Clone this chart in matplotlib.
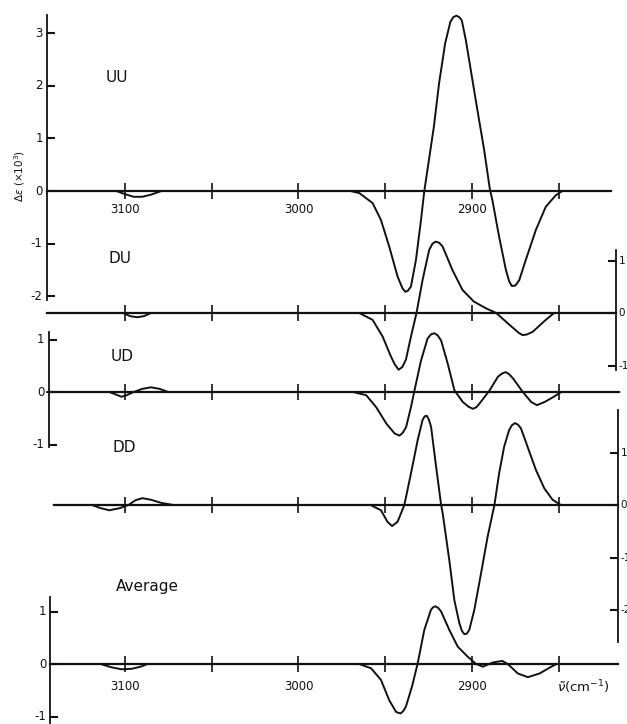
import matplotlib
matplotlib.use("Agg")
import matplotlib.pyplot as plt

# --- data (wavenumber in cm-1, delta-epsilon x 10^3) ---
uu_wn = [3145, 3105, 3100, 3095, 3090, 3085, 3079, 2970, 2964.9, 2957.3, 2952.5, 2947.7,
         2942.9, 2940, 2938.4, 2937, 2935.2, 2932.3, 2929.4, 2927.5, 2922, 2919, 2915.5,
         2912.5, 2910.8, 2909, 2907.3, 2905.9, 2903.6, 2900.7, 2896.9, 2893, 2889.8,
         2888.3, 2884.4, 2880.5, 2878.6, 2877.1, 2875, 2872.8, 2869, 2863.2, 2857.5,
         2851.7, 2848, 2820]
uu_val = [0, 0, -0.06, -0.11, -0.11, -0.07, 0, 0, -0.04, -0.23, -0.55, -1.06,
          -1.63, -1.86, -1.92, -1.90, -1.82, -1.31, -0.55, 0, 1.22, 2.05, 2.81,
          3.22, 3.31, 3.34, 3.31, 3.25, 2.88, 2.30, 1.54, 0.78, 0.05,
          -0.17, -0.87, -1.50, -1.72, -1.81, -1.80, -1.70, -1.31, -0.74, -0.30,
          -0.08, 0, 0]

du_wn = [3145, 3101, 3097, 3093, 3089, 3085, 2965, 2957.3, 2951.5, 2946.7, 2944.5, 2942.3,
         2940.2, 2938.1, 2935.2, 2932, 2928.5, 2924.7, 2922.8, 2920.9, 2919, 2917, 2911.3,
         2905.5, 2899, 2892, 2886, 2878.6, 2873, 2870.9, 2868.5, 2865.1, 2857.5, 2852.7, 2817]
du_val = [0, 0, -0.06, -0.08, -0.06, 0, 0, -0.13, -0.45, -0.83, -0.98, -1.08,
          -1.03, -0.89, -0.45, 0, 0.63, 1.20, 1.32, 1.36, 1.34, 1.27, 0.82,
          0.44, 0.22, 0.09, 0, -0.22, -0.38, -0.42, -0.41, -0.36, -0.13, 0, 0]

ud_wn = [3145, 3109, 3105, 3102, 3099, 3095, 3090, 3085, 3080, 3075, 2968.5, 2961, 2955.2,
         2949.4, 2944.6, 2941.8, 2940, 2938, 2935.2, 2932.7, 2929.4, 2925.6, 2923.6, 2921.7,
         2919.8, 2917.8, 2914, 2910.1, 2905.3, 2902, 2899.5, 2897.5, 2895.7, 2889.9, 2885.1,
         2882.8, 2880.7, 2878.6, 2876.4, 2870.7, 2865.9, 2862.6, 2858.2, 2853.4, 2848.6, 2815]
ud_val = [0, 0, -0.05, -0.09, -0.06, 0, 0.06, 0.09, 0.06, 0, 0, -0.06, -0.29,
          -0.60, -0.79, -0.83, -0.78, -0.67, -0.29, 0.10, 0.60, 1.02, 1.10, 1.12,
          1.08, 0.98, 0.54, 0.03, -0.19, -0.28, -0.32, -0.29, -0.22, 0.03, 0.29,
          0.35, 0.38, 0.34, 0.26, 0, -0.19, -0.25, -0.19, -0.10, 0, 0]

dd_wn = [3141, 3119, 3114, 3109, 3103, 3098, 3094, 3090, 3085, 3079, 3072, 2958.4, 2952.5,
         2948.7, 2946.1, 2942.9, 2939, 2935.2, 2931.3, 2928.5, 2927.3, 2926.1, 2924.9,
         2923.6, 2920.7, 2917.8, 2916.9, 2913.1, 2910.2, 2907.3, 2905.8, 2904.4, 2903,
         2901.6, 2898.7, 2894.8, 2891, 2887.1, 2884.4, 2881.5, 2878.6, 2877, 2875.3,
         2873.5, 2871.8, 2868, 2863.2, 2858.4, 2853.6, 2848.8, 2817]
dd_val = [0, 0, -0.06, -0.10, -0.06, 0, 0.09, 0.13, 0.10, 0.04, 0, 0, -0.10,
          -0.32, -0.40, -0.32, 0, 0.60, 1.24, 1.62, 1.69, 1.70, 1.63,
          1.49, 0.73, 0, -0.16, -1.05, -1.81, -2.25, -2.40, -2.46, -2.45,
          -2.38, -2.00, -1.30, -0.60, 0, 0.60, 1.11, 1.43, 1.52, 1.56,
          1.53, 1.46, 1.11, 0.67, 0.32, 0.10, 0, 0]

avg_wn = [3143, 3114, 3108, 3102, 3096, 3091, 3087, 2965, 2958.2, 2952.5, 2947.7, 2943.8,
          2942.4, 2941, 2939.5, 2938.1, 2934.6, 2931.4, 2927.5, 2923.7, 2922.5, 2921.2,
          2919.5, 2917.8, 2913.1, 2908.2, 2902.5, 2897.6, 2893.8, 2888, 2882.6, 2879.4,
          2873.6, 2867.8, 2861.1, 2854.3, 2851.4, 2817]
avg_val = [0, 0, -0.06, -0.10, -0.09, -0.05, 0, 0, -0.08, -0.30, -0.69, -0.91,
           -0.93, -0.94, -0.89, -0.81, -0.43, 0, 0.65, 1.03, 1.08, 1.10,
           1.07, 1.00, 0.65, 0.33, 0.14, 0, -0.05, 0.03, 0.06, 0,
           -0.18, -0.25, -0.18, -0.05, 0, 0]

x_ticks = [3100, 3050, 3000, 2950, 2900, 2850]
x_ticklabels = {3100: "3100", 3000: "3000", 2900: "2900"}

# name, wn, values, baseline offset, zero line start/end, label pos (wn, height above
# zero line), side of the scale bar, scale bar x, scale bar extent, scale ticks
panels = [
    ("UU", uu_wn, uu_val, 0.0, 3145, 2820, (3104.5, 2.17), "left", 3145, (3.35, -2.08), [3, 2, 1, 0, -1, -2]),
    ("DU", du_wn, du_val, -2.324, 3145, 2817, (3103, 1.04), "right", 2817, (1.20, -1.09), [1, 0, -1]),
    ("UD", ud_wn, ud_val, -3.829, 3144, 2816, (3101.7, 0.67), "left", 3144, (1.14, -1.05), [1, 0, -1]),
    ("DD", dd_wn, dd_val, -5.981, 3141, 2816, (3100.3, 1.10), "right", 2816, (1.81, -2.61), [1, 0, -1, -2]),
    ("Average", avg_wn, avg_val, -9.010, 3143, 2816, (3087, 1.47), "left", 3143, (1.28, -1.30), [1, 0, -1]),
]

INK = "#111111"
fig = plt.figure(figsize=(6.27, 7.24), dpi=100)
ax = fig.add_axes([0, 0, 1, 1])
ax.set_xlim(3172, 2810.7)
ax.set_ylim(-10.152, 3.638)
ax.axis("off")

for name, wn, val, off, b0, b1, lab, side, ax_x, ext, yt in panels:
    # zero line with cross ticks
    ax.plot([b0, b1], [off, off], color=INK, lw=1.6)
    ax.plot(x_ticks, [off] * len(x_ticks), ls="none", marker="|", ms=11, mew=1.2, color=INK)
    # spectrum
    ax.plot(wn, [v + off for v in val], color=INK, lw=1.4,
            solid_joinstyle="round", solid_capstyle="round")
    ax.text(lab[0], lab[1] + off, name, ha="center", va="center", fontsize=11, color=INK)
    # vertical scale bar
    ax.plot([ax_x, ax_x], [ext[0] + off, ext[1] + off], color=INK, lw=1.3)
    if side == "left":
        ax.plot([ax_x] * len(yt), [t + off for t in yt], ls="none", marker=1, ms=6, mew=1.5, color=INK)
        for t in yt:
            ax.annotate(str(t), (ax_x, t + off), xytext=(-3, 0), textcoords="offset points",
                        ha="right", va="center", fontsize=8.5, color=INK)
    else:
        ax.plot([ax_x] * len(yt), [t + off for t in yt], ls="none", marker=0, ms=6, mew=1.5, color=INK)
        for t in yt:
            # the reference crops these at the page edge
            ax.annotate(str(t), (ax_x, t + off), xytext=(2, 0), textcoords="offset points",
                        ha="left", va="center", fontsize=7.5, color=INK)

# wavenumber labels under the top and bottom traces
for off, dy in [(0.0, -0.36), (-9.010, -0.42)]:
    for t, s in x_ticklabels.items():
        ax.text(t, off + dy, s, ha="center", va="center", fontsize=8.5, color=INK)

ax.text(2851, -9.010 - 0.44, r"$\tilde{\nu}$(cm$^{-1}$)", ha="left", va="center",
        fontsize=9.5, color=INK)
ax.text(3160.5, 0.29, r"$\Delta\epsilon$ ($\times$10$^3$)", rotation=90, ha="center",
        va="center", fontsize=7.5, color=INK)

fig.savefig("out.png", dpi=100, facecolor="white")
